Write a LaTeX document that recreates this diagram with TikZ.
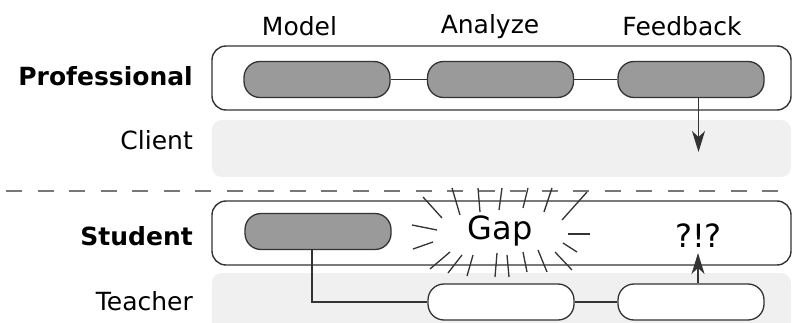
\documentclass[tikz,border=0pt]{standalone}
\usepackage{fontspec}
\setmainfont{DejaVu Sans}
\usetikzlibrary{arrows.meta,calc}
\definecolor{pillgray}{HTML}{9A9A9A}
\definecolor{bandgray}{HTML}{F0F0F0}
\definecolor{edge}{HTML}{333333}
\definecolor{dashgray}{HTML}{777777}
\begin{document}
\begin{tikzpicture}[x=1pt,y=-1pt,
  pill/.style={draw=edge, line width=1.3pt, rounded corners=16pt, minimum width=146pt, minimum height=36pt, inner sep=0pt},
  graypill/.style={pill, fill=pillgray},
  whitepill/.style={pill, fill=white},
  frame/.style={draw=edge, line width=1.4pt, rounded corners=14pt, fill=white, minimum width=579pt, minimum height=64pt, inner sep=0pt},
  band/.style={fill=bandgray, rounded corners=10pt, minimum width=579pt, inner sep=0pt},
  link/.style={draw=edge, line width=1.3pt},
  arr/.style={link, -{Stealth[length=21pt,width=13pt,inset=6pt]}},
  burst/.style={draw=edge, line width=1.3pt},
  rowlabel/.style={anchor=base east, inner sep=0pt, font=\fontsize{25}{30}\selectfont},
  steplabel/.style={anchor=base, inner sep=0pt, font=\fontsize{25}{30}\selectfont},
  bigtext/.style={anchor=base, inner sep=0pt, font=\fontsize{32}{36}\selectfont}
]
\useasboundingbox (0,0) rectangle (792,323);

% bands
\node[band, minimum height=57pt] (clientband) at (501.5,148.5) {};
\node[band, minimum height=62pt] (teacherband) at (501.5,304) {};

% frames
\node[frame] (proframe) at (501.5,78) {};
\node[frame] (stuframe) at (501.5,233) {};

% dashed separator
\coordinate (dl) at (6,191);
\coordinate (dr) at (779,191);
\draw[dashgray, line width=1.7pt, dash pattern=on 16pt off 15.5pt] (dl) -- (dr);

% column labels
\node[steplabel] (model) at (299.5,36) {Model};
\node[steplabel] (analyze) at (490,34) {Analyze};
\node[steplabel] (feedback) at (682,36) {Feedback};

% row labels
\node[rowlabel, font=\fontsize{25}{30}\selectfont\bfseries] (professional) at (193,86) {Professional};
\node[rowlabel] (client) at (193,150) {Client};
\node[rowlabel, font=\fontsize{25}{30}\selectfont\bfseries] (student) at (193,245) {Student};
\node[rowlabel] (teacher) at (193,310) {Teacher};

% professional pills
\node[graypill] (p1) at (317,79.5) {};
\node[graypill] (p2) at (500.5,79.5) {};
\node[graypill] (p3) at (691,79.5) {};
\draw[link] (p1) -- (p2);
\draw[link] (p2) -- (p3);
\coordinate (tipdown) at (698.5,152);
\draw[arr] (p3.south -| tipdown) -- (tipdown);

% student pill
\node[graypill] (s1) at (318,231.5) {};

% teacher pills
\node[whitepill] (t1) at (501,302) {};
\node[whitepill] (t2) at (691,302) {};
\coordinate (bend) at (312,302);
\draw[link] (s1.south -| bend) -- (bend) -- (t1.west);
\draw[link] (t1) -- (t2);
\coordinate (tipup) at (698,253);
\draw[arr] (t2.north -| tipup) -- (tipup);

% texts
\node[bigtext] (gap) at (500,240) {Gap};
\node[bigtext] (huh) at (698.5,247) {?!?};

% starburst around Gap
\draw[burst] (423,197) -- (442,218);
\draw[burst] (452,188) -- (460,215);
\draw[burst] (478,188) -- (480,212);
\draw[burst] (502,188) -- (499,210);
\draw[burst] (528,188) -- (523,208);
\draw[burst] (552,188) -- (544,212);
\draw[burst] (587,192) -- (562,220);
\draw[burst] (412,225) -- (437,230);
\draw[burst] (413,249) -- (433,242);
\draw[burst] (568,234) -- (590,234);
\draw[burst] (563,243) -- (577,252);
\draw[burst] (430,269) -- (450,252);
\draw[burst] (448,273) -- (462,255);
\draw[burst] (467,276) -- (473,255);
\draw[burst] (495,277) -- (497,253);
\draw[burst] (509,277) -- (507,255);
\draw[burst] (527,272) -- (523,252);
\draw[burst] (547,272) -- (538,250);
\draw[burst] (572,270) -- (555,252);
\end{tikzpicture}
\end{document}
